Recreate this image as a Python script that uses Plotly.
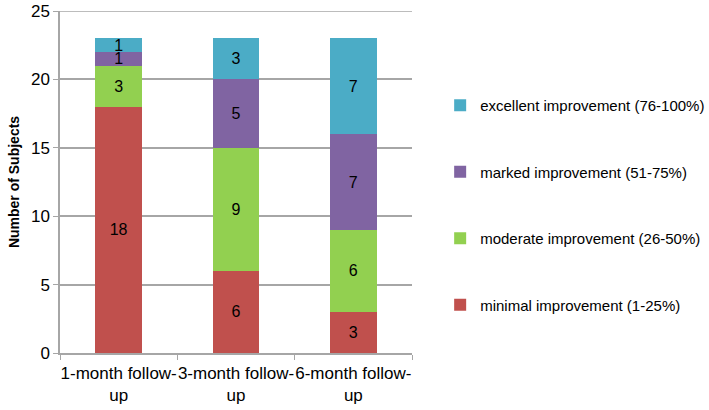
import plotly.graph_objects as go

categories = ["1-month follow-<br>up", "3-month follow-<br>up", "6-month follow-<br>up"]
series_names = [
    "minimal improvement (1-25%)",
    "moderate improvement (26-50%)",
    "marked improvement (51-75%)",
    "excellent improvement (76-100%)",
]
minimal = [18, 6, 3]
moderate = [3, 9, 6]
marked = [1, 5, 7]
excellent = [1, 3, 7]
colors = ["#C0504D", "#92D050", "#8064A2", "#4BACC6"]
y_max = 25

FONT = "Liberation Sans, Arial, sans-serif"
GRID = "#a6a6a6"


def main():
    fig = go.Figure()
    for i, (name, vals) in enumerate(zip(series_names, [minimal, moderate, marked, excellent])):
        fig.add_trace(go.Bar(
            x=categories, y=vals, name=name,
            marker=dict(color=colors[i], line=dict(width=0)),
            text=vals, textposition="inside", insidetextanchor="middle",
            textangle=0, constraintext="none",
            textfont=dict(family=FONT, size=16, color="black"),
            legendgroup=f"g{i}", legendrank=10 - i,
        ))

    # plotly drops the gridline sitting on the top edge, so draw it by hand
    fig.add_hline(y=y_max, line=dict(color=GRID, width=1.5), layer="below")

    fig.update_layout(
        barmode="stack",
        bargap=0.6,
        width=709, height=410,
        margin=dict(l=60, r=297, t=11, b=57, autoexpand=False),
        plot_bgcolor="white",
        paper_bgcolor="white",
        font=dict(family=FONT, size=16, color="black"),
        legend=dict(
            x=1.08, y=0.772, xanchor="left", yanchor="top",
            traceorder="grouped",
            tracegroupgap=44,
            font=dict(family=FONT, size=15, color="black"),
            itemwidth=30,
        ),
    )
    fig.update_yaxes(
        range=[0, y_max], dtick=5,
        showgrid=True, gridcolor=GRID, gridwidth=1.5,
        showline=True, linecolor=GRID, linewidth=1.5,
        ticks="outside", ticklen=5, tickcolor=GRID,
        tickfont=dict(size=17),
        title=dict(text="<b>Number of Subjects</b>", font=dict(size=14), standoff=8),
        zeroline=False,
    )
    fig.update_xaxes(
        showline=True, linecolor=GRID, linewidth=1.5,
        ticks="outside", ticklen=5, tickcolor=GRID,
        tickson="boundaries", tickangle=0,
        tickfont=dict(size=17), ticklabelstandoff=4,
    )
    # drop the browser's default 8px body margin so the figure sits at 0,0
    fig.write_html(
        "out.html",
        config={"displayModeBar": False},
        post_script="document.body.style.margin = '0';",
    )


if __name__ == "__main__":
    main()
